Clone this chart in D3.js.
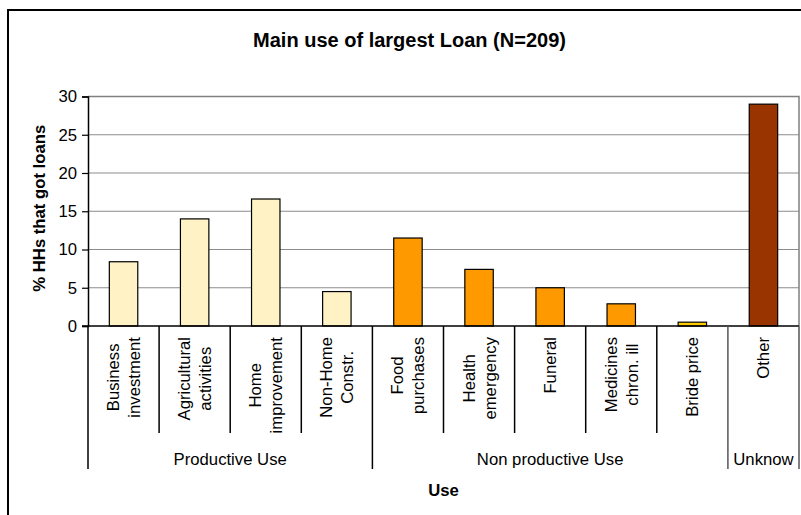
<!DOCTYPE html>
<html>
<head>
<meta charset="utf-8">
<script src="https://cdn.jsdelivr.net/npm/d3@7"></script>
<style>
  html, body { margin: 0; padding: 0; background: #fff; }
  svg { display: block; }
  text { font-family: Arial, "Liberation Sans", sans-serif; fill: #000; }
</style>
</head>
<body>
<svg id="chart" width="801" height="515"></svg>
<script>
// Category labels (each entry is one label, split into lines)
const categories = [
  ["Business", "investment"],
  ["Agricultural", "activities"],
  ["Home", "improvement"],
  ["Non-Home", "Constr."],
  ["Food", "purchases"],
  ["Health", "emergency"],
  ["Funeral"],
  ["Medicines", "chron. ill"],
  ["Bride price"],
  ["Other"]
];
// % of households that got loans, per main use
const values = [8.4, 14.0, 16.6, 4.5, 11.5, 7.4, 5.0, 2.9, 0.5, 29.0];
const barColors = ["#FFF2C4", "#FFF2C4", "#FFF2C4", "#FFF2C4",
                   "#FF9900", "#FF9900", "#FF9900", "#FF9900", "#FFCC00", "#993300"];
// Category groups and how many categories each spans
const groups = ["Productive Use", "Non productive Use", "Unknow"];
const groupSizes = [4, 5, 1];
const yTicks = [0, 5, 10, 15, 20, 25, 30];

const svg = d3.select("#chart");
const plotL = 88, plotR = 799, plotT = 96.5, plotB = 326;

// Outer chart frame
svg.append("rect")
  .attr("x", 8).attr("y", 10).attr("width", 830).attr("height", 540)
  .attr("fill", "none").attr("stroke", "#000").attr("stroke-width", 2);

// Title
svg.append("text")
  .attr("x", 409.5).attr("y", 46.5)
  .attr("text-anchor", "middle")
  .style("font-size", "20px").style("font-weight", "bold")
  .text("Main use of largest Loan (N=209)");

const idx = d3.range(categories.length);
const x = d3.scaleBand().domain(idx).range([plotL, plotR]).padding(0);
const y = d3.scaleLinear().domain([0, 30]).range([plotB, plotT]);

// Gridlines
svg.append("g")
  .selectAll("line").data(yTicks.filter(t => t > 0 && t < 30)).join("line")
  .attr("x1", plotL).attr("x2", plotR)
  .attr("y1", d => y(d)).attr("y2", d => y(d))
  .attr("stroke", "#8c8c8c").attr("stroke-width", 1.2);

// Plot area border (top & right)
svg.append("path")
  .attr("d", `M${plotL},${plotT}H${plotR}V${plotB}`)
  .attr("fill", "none").attr("stroke", "#808080").attr("stroke-width", 1.5);

// Bars
const barW = x.bandwidth() * 0.4;
svg.append("g")
  .selectAll("rect").data(idx).join("rect")
  .attr("x", i => x(i) + (x.bandwidth() - barW) / 2)
  .attr("y", i => y(values[i]))
  .attr("width", barW)
  .attr("height", i => y(0) - y(values[i]))
  .attr("fill", i => barColors[i])
  .attr("stroke", "#000").attr("stroke-width", 1.2);

// Y axis
const yAxis = d3.axisLeft(y).tickValues(yTicks).tickSize(6).tickPadding(5);
const gy = svg.append("g").attr("transform", `translate(${plotL},0)`).call(yAxis);
gy.select(".domain").attr("stroke", "#000").attr("stroke-width", 1.5);
gy.selectAll(".tick line").attr("stroke", "#000").attr("stroke-width", 1.2);
gy.selectAll(".tick text")
  .style("font-size", "16.7px").style("font-family", "Arial, 'Liberation Sans', sans-serif")
  .attr("fill", "#000");

// X axis line
svg.append("line")
  .attr("x1", plotL - 6).attr("x2", plotR)
  .attr("y1", plotB).attr("y2", plotB)
  .attr("stroke", "#000").attr("stroke-width", 1.5);

// Separators between categories and groups
const groupEnds = [];
let acc = 0;
groupSizes.forEach(n => { groupEnds.push(acc); acc += n; });
groupEnds.push(acc);
const boundaries = d3.range(categories.length + 1);
svg.append("g")
  .selectAll("line").data(boundaries).join("line")
  .attr("x1", i => i < categories.length ? x(i) : plotR)
  .attr("x2", i => i < categories.length ? x(i) : plotR)
  .attr("y1", plotB)
  .attr("y2", i => groupEnds.includes(i) ? 469 : 433)
  .attr("stroke", i => (i === categories.length || i === 9) ? "#555" : "#000")
  .attr("stroke-width", 1.5);

// Rotated category labels
const lineGap = 21;
const labelTop = 337;
idx.forEach(i => {
  const cx = x(i) + x.bandwidth() / 2;
  const lines = categories[i];
  const g = svg.append("g");
  const texts = lines.map((s, k) => g.append("text")
    .style("font-size", "16.7px")
    .attr("text-anchor", "middle")
    .text(s));
  const maxLen = d3.max(texts, t => t.node().getComputedTextLength());
  const cy = labelTop + maxLen / 2;
  texts.forEach((t, k) => {
    const off = (k - (lines.length - 1) / 2) * lineGap;
    t.attr("transform", `translate(${cx + off + 6},${cy}) rotate(-90)`);
  });
});

// Group labels
groups.forEach((gname, k) => {
  const a = x(groupEnds[k]);
  const b = groupEnds[k + 1] < categories.length ? x(groupEnds[k + 1]) : plotR;
  svg.append("text")
    .attr("x", (a + b) / 2).attr("y", 465)
    .attr("text-anchor", "middle")
    .style("font-size", "16.7px")
    .text(gname);
});

// Axis titles
svg.append("text")
  .attr("x", (plotL + plotR) / 2).attr("y", 496)
  .attr("text-anchor", "middle")
  .style("font-size", "16.7px").style("font-weight", "bold")
  .text("Use");

svg.append("text")
  .attr("transform", `translate(45,${(plotT + plotB) / 2 - 3}) rotate(-90)`)
  .attr("text-anchor", "middle")
  .style("font-size", "16.7px").style("font-weight", "bold")
  .text("% HHs that got loans");
</script>
</body>
</html>
